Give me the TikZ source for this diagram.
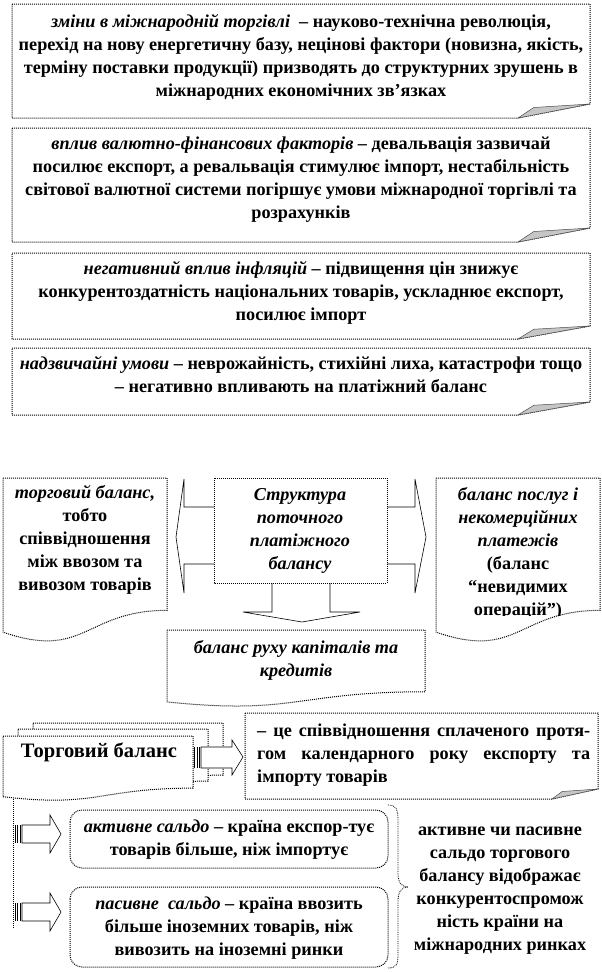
\documentclass[tikz,border=0pt]{standalone}
\usepackage{fontspec}
\setmainfont{Liberation Serif}
\newcommand\myfs{\fontsize{18.2}{23}\selectfont}
\newcommand\foldbox[6]{%
  \draw[bx] (#1,#2) -- (#3,#2) -- (#3,#5) -- (#3-#6,#4) -- (#1,#4) -- cycle;
  \filldraw[flap] (#3-#6,#4) -- ({#3-0.78*#6},{#5+0.25*(#4-#5)}) -- (#3,#5) -- cycle;}
\newcommand\docshape[4]{%
  \draw[bx] (#1,#2) -- (#3,#2) -- (#3,{#2+0.802*#4}) .. controls ({(#1+#3)/2},{#2+0.802*#4}) and ({(#1+#3)/2},{#2+1.107*#4}) .. (#1,{#2+0.934*#4}) -- cycle;}
\tikzset{
  bx/.style={draw=black, line width=1pt, densely dotted, fill=white},
  flap/.style={fill=gray!45, draw=black!70, line width=0.5pt},
  outl/.style={draw=black, line width=0.6pt, fill=white},
  txt/.style={font=\myfs\bfseries, align=center, inner sep=0pt},
  stripe/.style={draw=black, line width=0.7pt}
}
\begin{document}
\begin{tikzpicture}[x=1pt,y=-1pt]
\useasboundingbox (0,0) rectangle (602,972);

% ---------- top four boxes ----------
\foldbox{12}{4}{590}{118}{104}{72}
\node[txt] (t1) at (301,57) {\textit{зміни в міжнародній торгівлі}~ – науково-технічна революція,\\
перехід на нову енергетичну базу, нецінові фактори (новизна, якість,\\
терміну поставки продукції) призводять до структурних зрушень в\\
міжнародних економічних зв’язках};

\foldbox{12}{128}{590}{242}{228}{72}
\node[txt] (t2) at (301,180) {\textit{вплив валютно-фінансових факторів} – девальвація зазвичай\\
посилює експорт, а ревальвація стимулює імпорт, нестабільність\\
світової валютної системи погіршує умови міжнародної торгівлі та\\
розрахунків};

\foldbox{12}{253}{590}{339}{326}{72}
\node[txt] (t3) at (301,293) {\textit{негативний вплив інфляцій} – підвищення цін знижує\\
конкурентоздатність національних товарів, ускладнює експорт,\\
посилює імпорт};

\foldbox{12}{348}{590}{415}{402}{72}
\node[txt] (t4) at (301,375) {\textit{надзвичайні умови} – неврожайність, стихійні лиха, катастрофи тощо\\
– негативно впливають на платіжний баланс};

% ---------- middle block ----------
\docshape{3}{478}{167}{165}
\node[txt] (lb) at (85,540) {\textit{торговий баланс,}\\ тобто\\ співвідношення\\ між ввозом та\\ вивозом товарів};

\docshape{436}{478}{600}{165}
\begin{scope}
\clip (436,478) rectangle (600,615);
\node[txt] (rb) at (518,553) {\textit{баланс послуг і}\\ \textit{некомерційних}\\ \textit{платежів}\\ (баланс\\ “невидимих\\ операцій”)};
\end{scope}

% block arrows
\draw[outl] (214,507) -- (184,507) -- (184,479) -- (176,537) -- (184,593) -- (184,564) -- (214,564);
\draw[outl] (387,507) -- (415,507) -- (415,479) -- (426,537) -- (415,593) -- (415,564) -- (387,564);
\draw[outl] (272,583) -- (272,612) -- (243,612) -- (302,622) -- (360,612) -- (330,612) -- (330,583);

\draw[bx] (214,478) rectangle (387,583);
\node[txt] (cb) at (300,531) {\textit{Структура}\\ \textit{поточного}\\ \textit{платіжного}\\ \textit{балансу}};

\docshape{167}{630}{425}{77}
\node[txt] (kb) at (296,660) {\textit{баланс руху капіталів та}\\ \textit{кредитів}};

% ---------- bottom block ----------
\draw[bx] (13,797) -- (13,928);
\docshape{33}{723}{223}{65}
\docshape{18}{729}{208}{65}
\docshape{3}{736}{193}{65}
\node[txt, font=\fontsize{20.5}{24}\selectfont\bfseries] (tb) at (99,752) {Торговий баланс};

% striped arrow to definition box
\draw[stripe] (194,747) -- (194,768);
\draw[stripe] (197,747) -- (197,768);
\draw[stripe] (199.5,747) -- (199.5,768);
\draw[outl] (201,747) -- (232,747) -- (232,740) -- (243,757) -- (232,775) -- (232,768) -- (201,768) -- cycle;

\foldbox{245}{713}{598}{799}{789}{46}
\node[txt, anchor=west, align=left] (def) at (257,755) {\makebox[333pt][s]{– це співвідношення сплаченого протя-}\\
\makebox[333pt][s]{гом календарного року експорту та}\\
імпорту товарів};

% striped arrows to balance boxes
\foreach \yy in {834,912}{
  \draw[stripe] (15,\yy-9) -- (15,\yy+9);
  \draw[stripe] (17.5,\yy-9) -- (17.5,\yy+9);
  \draw[stripe] (20,\yy-9) -- (20,\yy+9);
  \draw[outl] (22,\yy-9) -- (50,\yy-9) -- (50,\yy-19) -- (61,\yy) -- (50,\yy+19) -- (50,\yy+9) -- (22,\yy+9) -- cycle;
}

\draw[bx, rounded corners=12pt] (70,810) rectangle (388,868);
\node[txt] (as) at (229,840) {\textit{активне сальдо} – країна експор-тує\\ товарів більше, ніж імпортує};

\draw[bx, rounded corners=12pt] (70,887) rectangle (388,967);
\node[txt] (ps) at (229,928) {\textit{пасивне~ сальдо} – країна ввозить\\ більше іноземних товарів, ніж\\ вивозить на іноземні ринки};

% brace
\draw[draw=black, line width=0.8pt, densely dotted] (388,805) .. controls (397,805) and (398,810) .. (398,822) -- (398,873) .. controls (398,883) and (402,887) .. (408,887) .. controls (402,887) and (398,891) .. (398,901) -- (398,953) .. controls (398,964) and (397,968) .. (388,968);

\node[txt] (sum) at (500,891) {активне чи пасивне\\ сальдо торгового\\ балансу відображає\\ конкурентоспромож\\ ність країни на\\ міжнародних ринках};
\end{tikzpicture}
\end{document}
